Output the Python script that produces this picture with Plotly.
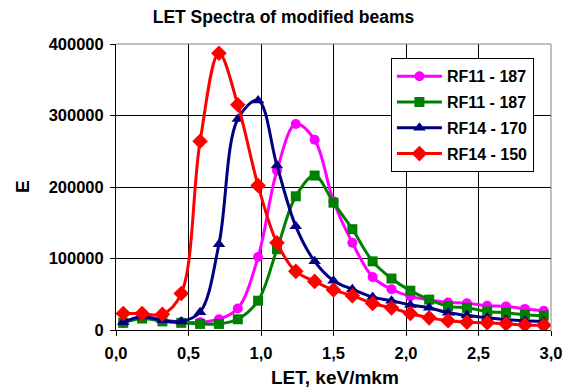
import plotly.graph_objects as go

let_x = [0.05, 0.18, 0.32, 0.45, 0.58, 0.71, 0.84, 0.98, 1.11, 1.24, 1.37, 1.50,
         1.63, 1.77, 1.90, 2.03, 2.16, 2.29, 2.42, 2.56, 2.69, 2.82, 2.95]

rf11_187_a = [10000, 18000, 14000, 11000, 11000, 15000, 30000, 102000, 223000, 288000, 266000, 180000,
              122000, 74000, 57000, 47000, 42000, 38500, 37500, 34000, 33000, 29500, 27000]
rf11_187_b = [10000, 16000, 12000, 10000, 8500, 8500, 15000, 41000, 113000, 187000, 216000, 178000,
              141000, 96000, 72000, 55000, 42500, 33000, 31000, 26000, 24000, 21500, 20000]
rf14_170 = [11000, 19000, 13500, 12000, 25000, 120000, 295000, 321000, 230000, 145000, 96000, 69000,
            57000, 46000, 41000, 35000, 31000, 24000, 20500, 17000, 14500, 13000, 12000]
rf14_150 = [23000, 23000, 22000, 51000, 264000, 387000, 315000, 202000, 122000, 82000, 68000, 56000,
            48000, 37000, 31000, 23000, 17000, 13000, 11000, 10000, 8500, 7000, 6500]

series_names = ["RF11 - 187", "RF11 - 187", "RF14 - 170", "RF14 - 150"]
series_values = [rf11_187_a, rf11_187_b, rf14_170, rf14_150]
colors = ["#FF00FF", "#008000", "#000080", "#FF0000"]
symbols = ["circle", "square", "triangle-up", "diamond"]
sizes = [10, 10, 11, 12]

x_ticks = [0.0, 0.5, 1.0, 1.5, 2.0, 2.5, 3.0]
y_ticks = [0, 100000, 200000, 300000, 400000]

FONT = "Liberation Sans, Arial, sans-serif"
W, H = 567, 388
ML, MR, MT, MB = 116, 16, 44, 58

fig = go.Figure()
for i, (name, vals) in enumerate(zip(series_names, series_values)):
    fig.add_trace(go.Scatter(
        x=let_x, y=vals, name=name, mode="lines+markers",
        legendgroup=f"g{i}",
        line=dict(color=colors[i], width=3, shape="spline", smoothing=1),
        marker=dict(color=colors[i], symbol=symbols[i], size=sizes[i]),
    ))

pw = W - ML - MR
ph = H - MT - MB

fig.update_layout(
    width=W, height=H,
    margin=dict(l=ML, r=MR, t=MT, b=MB),
    paper_bgcolor="white", plot_bgcolor="white",
    separators=",.",
    font=dict(family=FONT, size=16, color="black", weight="bold"),
    title=dict(text="LET Spectra of modified beams", x=0.5, xanchor="center",
               y=1 - 17 / H, yanchor="middle",
               font=dict(family=FONT, size=17.5, color="black", weight="bold")),
    showlegend=True,
    legend=dict(x=0.632, y=0.95, xanchor="left", yanchor="top",
                bgcolor="white", bordercolor="black", borderwidth=1,
                font=dict(family=FONT, size=16, color="black", weight="bold"),
                tracegroupgap=2, itemwidth=45),
    xaxis=dict(range=[0, 3], tickvals=x_ticks, tickformat=".1f",
               showgrid=True, gridcolor="black", gridwidth=1,
               showline=True, linecolor="black", linewidth=1,
               ticks="outside", ticklen=5, tickcolor="black",
               tickfont=dict(size=16.5),
               ticklabelstandoff=3, automargin=False,
               zeroline=False),
    yaxis=dict(range=[0, 400000], tickvals=y_ticks, tickformat="d",
               showgrid=True, gridcolor="black", gridwidth=1,
               showline=True, linecolor="black", linewidth=1,
               ticks="outside", ticklen=5, tickcolor="black",
               tickfont=dict(size=16.5),
               ticklabelstandoff=3, automargin=False,
               zeroline=False),
)

# axis titles
fig.add_annotation(text="LET, keV/mkm", xref="paper", yref="paper",
                   x=(335 - ML) / pw, y=-(377 - (MT + ph)) / ph,
                   xanchor="center", yanchor="middle", showarrow=False,
                   font=dict(family=FONT, size=19, color="black", weight="bold"))
fig.add_annotation(text="E", xref="paper", yref="paper",
                   x=-(ML - 22) / pw, y=1 - (187 - MT) / ph,
                   xanchor="center", yanchor="middle", showarrow=False, textangle=-90,
                   font=dict(family=FONT, size=19, color="black", weight="bold"))

fig.add_shape(type="line", xref="paper", yref="paper", x0=0, x1=1, y0=1, y1=1,
              line=dict(color="#808080", width=1), layer="above")
fig.add_shape(type="line", xref="paper", yref="paper", x0=1, x1=1, y0=0, y1=1,
              line=dict(color="#808080", width=1), layer="above")

fig.write_html("out.html")
